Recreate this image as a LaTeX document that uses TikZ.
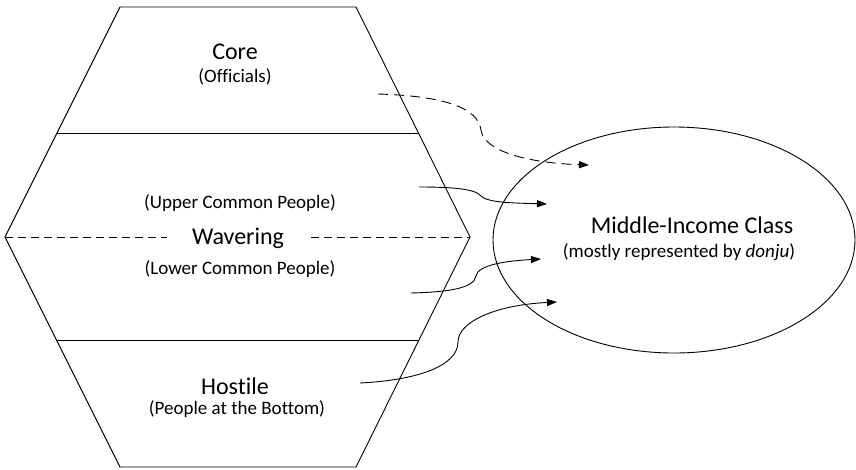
\documentclass[tikz,border=0pt]{standalone}
\usepackage{fontspec}
\setmainfont[Ligatures={NoCommon}]{Carlito}
\usetikzlibrary{arrows.meta}
\usetikzlibrary{shapes.geometric}
\tikzstyle{canvas} = [x = 1pt, y = -1pt]
\tikzstyle{outline} = [color=black, line width = 0.9pt, line join = miter]
\tikzstyle{splitLine} = [color=black, line width = 0.9pt, dash pattern = on 8pt off 5pt]
\tikzstyle{layerTitle} = [font=\fontsize{24}{28}\selectfont, anchor = base, inner sep = 0pt]
\tikzstyle{layerNote} = [font=\fontsize{19}{22}\selectfont, anchor = base, inner sep = 0pt]
\tikzstyle{classShape} = [draw, ellipse, line width = 0.9pt, inner sep = 0pt, minimum width = 362pt, minimum height = 226pt]
\tikzstyle{flowArrow} = [color=black, line width = 0.9pt, -{Triangle[length = 10pt, width = 7pt]}]
\tikzstyle{flowArrowDashed} = [flowArrow, dash pattern = on 10pt off 6pt]
\newcommand{\layerText}[5]{\node [#1] (#2) at (#3, #4) {#5};}

\begin{document}
\begin{tikzpicture}[canvas]
  \useasboundingbox (0,0) rectangle (856,469);
  \coordinate (hexTopLeft) at (120,7);
  \coordinate (hexTopRight) at (356,7);
  \coordinate (hexRight) at (470,237);
  \coordinate (hexBottomRight) at (356,467);
  \coordinate (hexBottomLeft) at (120,467);
  \coordinate (hexLeft) at (5,237);
  \draw [outline] (hexTopLeft) -- (hexTopRight) -- (hexRight) -- (hexBottomRight) -- (hexBottomLeft) -- (hexLeft) -- cycle;
  \draw [outline] (57,133) -- (418.5,133);
  \draw [outline] (56.5,340) -- (419,340);

  \layerText{layerTitle}{core}{235}{59}{Core}
  \layerText{layerNote}{officials}{235}{82}{(Officials)}
  \layerText{layerNote}{upperCommon}{240}{208}{(Upper Common People)}
  \layerText{layerTitle}{wavering}{238}{244}{Wavering}
  \layerText{layerNote}{lowerCommon}{240}{274}{(Lower Common People)}
  \layerText{layerTitle}{hostile}{235}{394}{Hostile}
  \layerText{layerNote}{bottomPeople}{237}{414}{(People at the Bottom)}

  \coordinate (splitLeftEnd) at (167,237);
  \coordinate (splitRightStart) at (311,237);
  \draw [splitLine] (hexLeft) -- (splitLeftEnd);
  \draw [splitLine] (splitRightStart) -- (hexRight);

  \node [classShape] (middleClass) at (674,240) {};
  \layerText{layerTitle}{middleTitle}{692}{233}{Middle-Income Class}
  \layerText{layerNote}{middleNote}{679}{257}{(mostly represented by \textit{donju})}

  \coordinate (coreStart) at (378,94);
  \coordinate (coreBend) at (481,130);
  \coordinate (coreEnd) at (589,165);
  \coordinate (upperStart) at (419,187);
  \coordinate (upperBend) at (481,196);
  \coordinate (upperEnd) at (547,204);
  \coordinate (lowerStart) at (411,293);
  \coordinate (lowerBend) at (476,276);
  \coordinate (lowerEnd) at (541,259);
  \coordinate (hostileStart) at (360,383);
  \coordinate (hostileBend) at (458,342);
  \coordinate (hostileEnd) at (557,302);
  \draw [flowArrowDashed] (coreStart) .. controls (445,96) and (478,108) .. (coreBend) .. controls (484,152) and (530,163) .. (coreEnd);
  \draw [flowArrow] (upperStart) .. controls (460,187) and (476,190) .. (upperBend) .. controls (488,203) and (515,203) .. (upperEnd);
  \draw [flowArrow] (lowerStart) .. controls (450,292) and (474,288) .. (lowerBend) .. controls (478,265) and (505,261) .. (lowerEnd);
  \draw [flowArrow] (hostileStart) .. controls (420,380) and (458,365) .. (hostileBend) .. controls (458,322) and (495,305) .. (hostileEnd);
\end{tikzpicture}
\end{document}
